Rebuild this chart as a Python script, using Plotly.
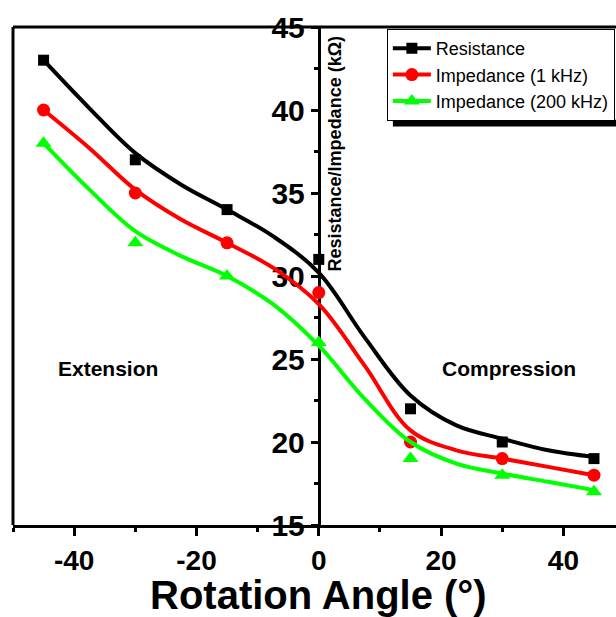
import plotly.graph_objects as go

# ---- data ----
angles = [-45, -30, -15, 0, 15, 30, 45]
resistance = [43, 37, 34, 31, 22, 20, 19]
impedance_1k = [40, 35, 32, 29, 20, 19, 18]
impedance_200k = [38, 32, 30, 26, 19, 18, 17]

# fitted curves
fit_x = [-45, -37.5, -30, -22.5, -15, -7.5, 0, 7.5, 15, 22.5, 30, 37.5, 45]
resistance_fit = [43.0, 40.1, 37.4, 35.5, 34.0, 32.4, 30.2, 26.3, 22.8, 21.0, 20.2, 19.5, 19.1]
impedance_1k_fit = [40.0, 37.7, 35.2, 33.4, 32.0, 30.5, 28.3, 24.6, 20.7, 19.5, 19.0, 18.5, 18.0]
impedance_200k_fit = [38.0, 35.2, 32.7, 31.2, 30.0, 28.3, 25.8, 22.6, 20.0, 18.7, 18.1, 17.6, 17.1]

series_names = ["Resistance", "Impedance (1 kHz)", "Impedance (200 kHz)"]
x_tick_vals = [-40, -20, 0, 20, 40]
y_tick_vals = [15, 20, 25, 30, 35, 40, 45]

colors = ["#000000", "#FF0000", "#00FF00"]
symbols = ["square", "circle", "triangle-up"]
msizes = [11, 13, 14]
FONT = "Liberation Sans, Arial, sans-serif"

fig = go.Figure()
points = [resistance, impedance_1k, impedance_200k]
fits = [resistance_fit, impedance_1k_fit, impedance_200k_fit]

for i in range(3):
    fig.add_trace(go.Scatter(x=angles, y=points[i], mode="markers",
                             marker=dict(symbol=symbols[i], size=msizes[i], color=colors[i]),
                             showlegend=False))
for i in range(3):
    fig.add_trace(go.Scatter(x=fit_x, y=fits[i], mode="lines",
                             line=dict(color=colors[i], width=4, shape="spline", smoothing=1.0),
                             showlegend=False))
# legend entries
for i in range(3):
    fig.add_trace(go.Scatter(x=[None], y=[None], mode="lines+markers", name=series_names[i],
                             line=dict(color=colors[i], width=4),
                             marker=dict(symbol=symbols[i], size=msizes[i], color=colors[i])))

fig.update_layout(
    width=616, height=617,
    margin=dict(l=13, r=0, t=27, b=92, autoexpand=False),
    plot_bgcolor="white", paper_bgcolor="white",
    font=dict(family=FONT, color="black"),
    xaxis=dict(range=[-50, 48.6], showgrid=False, zeroline=False, automargin=False,
               showline=True, linewidth=3, linecolor="black", layer="below traces",
               ticks="outside", ticklen=8, tickwidth=3, tickcolor="black",
               tickvals=x_tick_vals, ticktext=[str(v) for v in x_tick_vals],
               tickfont=dict(family=FONT, size=28, weight="bold", color="black"),
               minor=dict(dtick=10, ticks="outside", ticklen=4, tickwidth=3, tickcolor="black")),
    yaxis=dict(range=[15, 45], showgrid=False, zeroline=False, automargin=False,
               anchor="free", position=50 / 98.6,
               showline=True, linewidth=3, linecolor="black", layer="below traces",
               ticks="outside", ticklen=7, tickwidth=3, tickcolor="black",
               tickvals=y_tick_vals, ticktext=[str(v) for v in y_tick_vals],
               tickfont=dict(family=FONT, size=30, weight="bold", color="black"),
               minor=dict(dtick=2.5, ticks="outside", ticklen=4, tickwidth=3, tickcolor="black")),
    legend=dict(x=0.62, y=0.996, xanchor="left", yanchor="top",
                bgcolor="white", bordercolor="black", borderwidth=1,
                font=dict(family=FONT, size=18, color="black"),
                tracegroupgap=0, itemwidth=38),
    shapes=[
        dict(type="line", xref="paper", yref="paper", x0=0, x1=0, y0=0, y1=1,
             line=dict(color="black", width=3)),
        dict(type="line", xref="paper", yref="paper", x0=0, x1=1, y0=1, y1=1,
             line=dict(color="black", width=3)),
        dict(type="rect", xref="paper", yref="paper", x0=0.630, x1=1.01, y0=0.800, y1=0.814,
             fillcolor="black", line=dict(width=0), layer="above"),
    ],
    annotations=[
        dict(text="Resistance/Impedance (kΩ)", x=0, y=37.4, xref="x", yref="y",
             xshift=16.5, textangle=-90, showarrow=False, xanchor="center", yanchor="middle",
             font=dict(family=FONT, size=18, weight="bold", color="black")),
        dict(text="Extension", x=-34.5, y=24.4, xref="x", yref="y", showarrow=False,
             font=dict(family=FONT, size=21, weight="bold", color="black")),
        dict(text="Compression", x=31.1, y=24.4, xref="x", yref="y", showarrow=False,
             font=dict(family=FONT, size=21, weight="bold", color="black")),
        dict(text="Rotation Angle (°)", x=0, y=-0.1406, xref="x", yref="paper",
             showarrow=False, xanchor="center", yanchor="middle",
             font=dict(family=FONT, size=40, weight="bold", color="black")),
    ],
)

# remove the default page margin so the 616x617 figure fills the window exactly
fig.write_html(
    "out.html",
    config={"displayModeBar": False},
    post_script="document.body.style.margin='0';document.body.style.overflow='hidden';"
                "document.documentElement.style.overflow='hidden';",
)
